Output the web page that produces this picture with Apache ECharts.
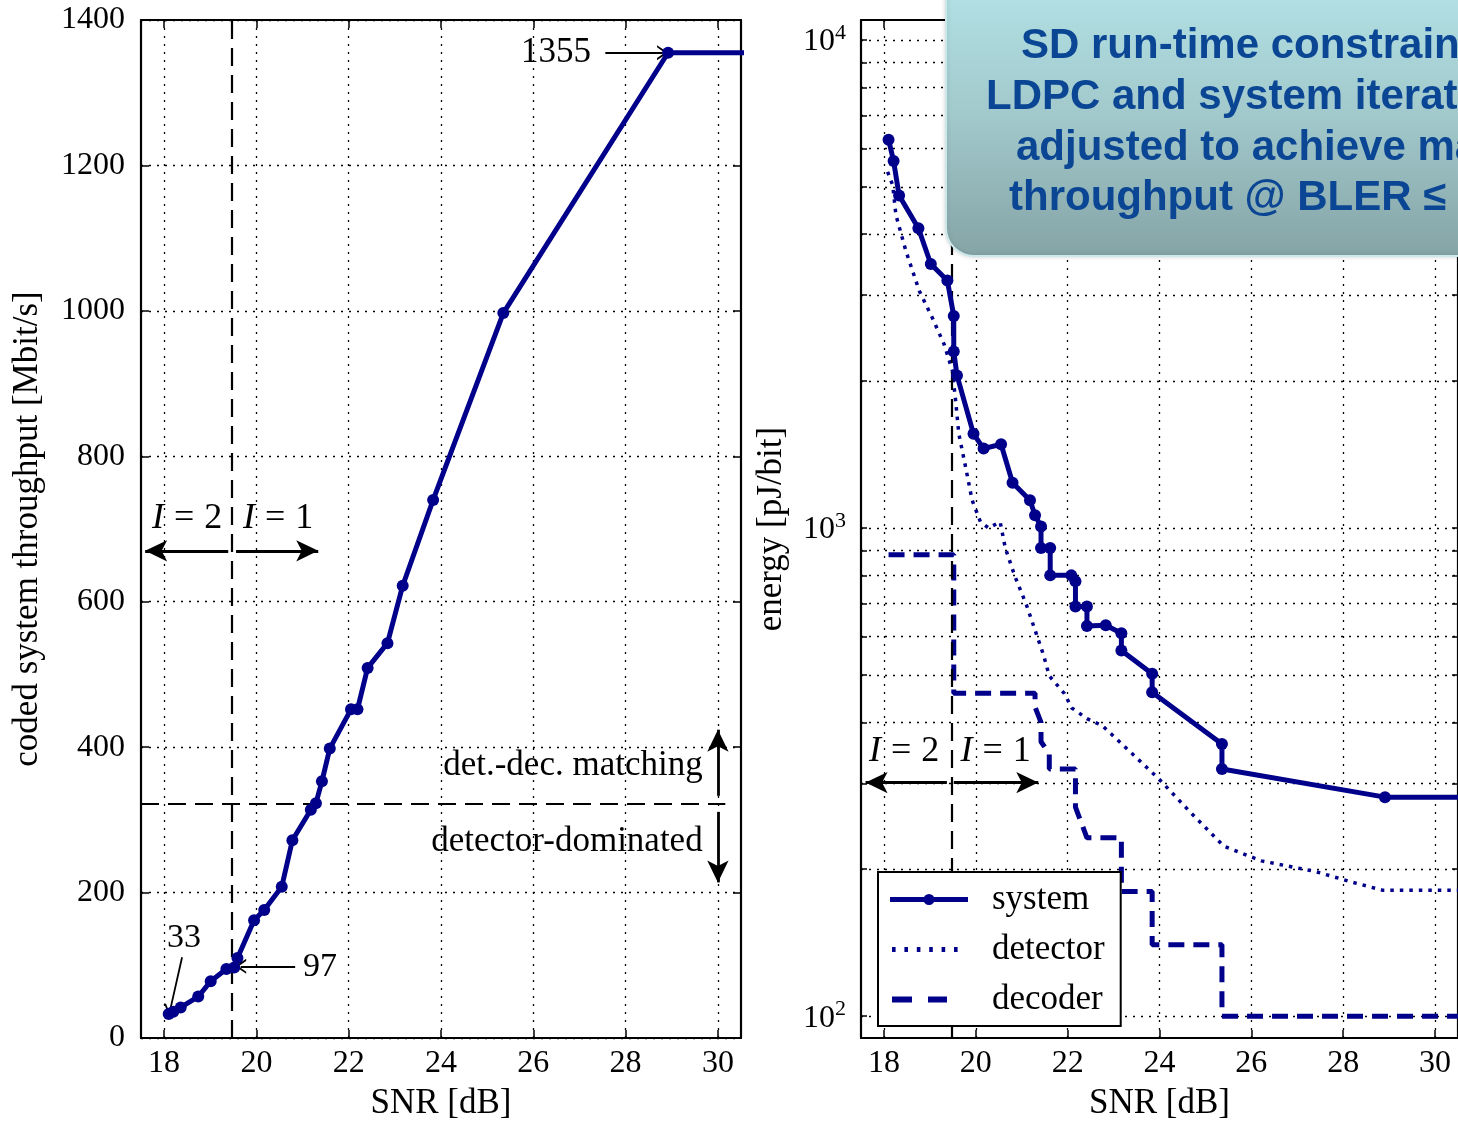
<!DOCTYPE html>
<html><head><meta charset="utf-8">
<script src="https://cdn.jsdelivr.net/npm/echarts@6/dist/echarts.min.js"></script>
<style>html,body{margin:0;padding:0;background:#fff}#c{width:1458px;height:1126px}</style>
</head><body><div id="c"></div>
<script>
// ---- data ----
const snrThroughput = [18.1, 18.2, 18.36, 18.74, 19.01, 19.35, 19.52, 19.59, 19.95, 20.17, 20.55, 20.78, 21.18, 21.29, 21.42, 21.59, 22.05, 22.19, 22.41, 22.84, 23.17, 23.83, 25.35, 28.92, 31];
const throughput = [33, 36, 42, 57, 78, 95, 97, 110, 162, 176, 208, 272, 314, 323, 353, 398, 452, 452, 509, 543, 622, 740, 997, 1355, 1355];

const snrSystem = [18.1, 18.21, 18.33, 18.75, 19.02, 19.38, 19.52, 19.52, 19.59, 19.95, 20.17, 20.55, 20.8, 21.18, 21.29, 21.42, 21.42, 21.62, 21.62, 22.08, 22.17, 22.17, 22.42, 22.42, 22.83, 23.17, 23.17, 23.84, 23.84, 25.36, 25.36, 28.91, 31];
const energySystem = [6250, 5650, 4800, 4115, 3475, 3215, 2720, 2300, 2055, 1560, 1455, 1485, 1238, 1140, 1062, 1008, 910, 910, 800, 800, 778, 691, 691, 630, 632, 609, 561, 503, 461, 361, 321, 281, 281];

const snrDetector = [18.08, 18.19, 18.26, 18.48, 18.77, 19.05, 19.31, 19.49, 19.56, 19.63, 19.78, 19.92, 20.1, 20.28, 20.53, 20.64, 20.85, 21.1, 21.31, 21.47, 21.6, 21.93, 22.09, 22.42, 22.75, 23.25, 23.99, 24.65, 25.4, 26.22, 27.38, 28.21, 28.87, 31];
const energyDetector = [5370, 5040, 4380, 3690, 3060, 2700, 2380, 2100, 1825, 1560, 1330, 1140, 1030, 1000, 1030, 912, 797, 697, 610, 551, 498, 458, 428, 407, 394, 356, 306, 263, 223, 208, 198, 188, 181, 181];

const snrDecoder = [18.1, 19.52, 19.52, 21.29, 21.29, 21.42, 21.42, 21.6, 21.6, 22.17, 22.17, 22.42, 23.17, 23.17, 23.84, 23.84, 25.36, 25.36, 31];
const energyDecoder = [882, 882, 459, 459, 430, 400, 365, 345, 321, 321, 268, 232, 232, 180, 180, 140, 140, 100, 100];

const xTicks = [18, 20, 22, 24, 26, 28, 30];
const energyMajor = [100, 1000, 10000];
const energyGrid = [100,200,300,400,500,600,700,800,900,1000,2000,3000,4000,5000,6000,7000,8000,9000,10000];

const iSplitSnr = 19.47;
const matchingLevel = 322;

const zip = (a, b) => a.map((v, i) => [v, b[i]]);

const SERIF = '"Liberation Serif", "DejaVu Serif", serif';
const NAVY = '#00008b';
const dotted = { type: [2, 6], color: '#000', width: 1.3 };
const openArrow = 'path://M5,0 L10,10 L8.6,10 L5,3 L1.4,10 L0,10 Z';

// legend icons (78 x 30 box; tiny corner specks fix the bounding box)
const corners = 'M0,0h0.1v0.1h-0.1Z M77.9,29.9h0.1v0.1h-0.1Z ';
const iconSystem = 'path://' + corners + 'M0,12.5H34V17.5H0Z M44,12.5H78V17.5H44Z M33.5,15A5.5,5.5,0,1,1,44.5,15A5.5,5.5,0,1,1,33.5,15Z';
let dots = '';
for (let k = 0; k < 6; k++) { const x0 = 2 + k * 12.4; dots += 'M' + x0 + ',12.5h3.6v5h-3.6Z '; }
const iconDetector = 'path://' + corners + dots;
const iconDecoder = 'path://' + corners + 'M2,12H22V18H2Z M38,12H57V18H38Z';

function xAx(grid, pos, main) {
  return {
    type: 'value', gridIndex: grid, position: pos, min: 17.5, max: 30.5,
    axisLine: { show: true, onZero: false, lineStyle: { color: '#000', width: 2.2 } },
    axisTick: { show: true, inside: true, length: 8, customValues: xTicks, lineStyle: { color: '#000', width: 1.5 } },
    axisLabel: { show: main, customValues: xTicks, color: '#000', fontSize: 32, fontFamily: SERIF, margin: 10 },
    splitLine: { show: main, lineStyle: dotted },
    name: main ? 'SNR [dB]' : '', nameLocation: 'middle', nameGap: 48,
    nameTextStyle: { color: '#000', fontSize: 35, fontFamily: SERIF }
  };
}
function yLin(pos, main) {
  return {
    type: 'value', gridIndex: 0, position: pos, min: 0, max: 1400, interval: 200,
    axisLine: { show: true, onZero: false, lineStyle: { color: '#000', width: 2.2 } },
    axisTick: { show: true, inside: true, length: 8, lineStyle: { color: '#000', width: 1.5 } },
    axisLabel: { show: main, color: '#000', fontSize: 32, fontFamily: SERIF, margin: 16, formatter: v => String(v) },
    splitLine: { show: main, lineStyle: dotted },
    name: main ? 'coded system throughput [Mbit/s]' : '', nameLocation: 'middle', nameGap: 96,
    nameTextStyle: { color: '#000', fontSize: 35, fontFamily: SERIF }
  };
}
function yLog(pos, main) {
  return {
    type: 'log', logBase: 10, gridIndex: 1, position: pos, min: 90.2, max: 10990,
    axisLine: { show: true, onZero: false, lineStyle: { color: '#000', width: 2.2 } },
    axisTick: { show: true, inside: true, length: 6, customValues: energyGrid, lineStyle: { color: '#000', width: 1.5 } },
    axisLabel: {
      show: main, customValues: energyMajor, margin: 15,
      formatter: v => '{b|10}{s|' + Math.round(Math.log10(v)) + '}',
      rich: {
        b: { fontSize: 32, fontFamily: SERIF, color: '#000', lineHeight: 36, verticalAlign: 'bottom' },
        s: { fontSize: 22, fontFamily: SERIF, color: '#000', lineHeight: 22, verticalAlign: 'top' }
      }
    },
    splitLine: { show: main, lineStyle: dotted },
    name: main ? 'energy [pJ/bit]' : '', nameLocation: 'middle', nameGap: 72,
    nameTextStyle: { color: '#000', fontSize: 35, fontFamily: SERIF }
  };
}

function arrow(p1, p2, sym) {
  return [{ coord: p1, symbol: 'none' }, { coord: p2, symbol: sym || 'arrow' }];
}
const richText = {
  i: { fontStyle: 'italic', fontSize: 36, fontFamily: SERIF, color: '#000' },
  e: { fontSize: 36, fontFamily: SERIF, color: '#000', padding: [0, 10, 0, 10] },
  n: { fontSize: 36, fontFamily: SERIF, color: '#000' }
};
function txt(coord, text, pos, size) {
  return {
    coord: coord, value: 0,
    label: { show: true, position: pos || 'inside', distance: 0, formatter: text,
      color: '#000', fontSize: size || 35, fontFamily: SERIF, rich: richText }
  };
}
const iLabel = n => '{i|I}{e|=}{n|' + n + '}';
const markText = { symbol: 'circle', symbolSize: 1, itemStyle: { color: 'rgba(0,0,0,0)' }, silent: true };
const BOXFONT = 'bold 42px "Liberation Sans", Arial, sans-serif';

const chart = echarts.init(document.getElementById('c'));
chart.setOption({
  animation: false,
  backgroundColor: '#fff',
  textStyle: { fontFamily: SERIF },
  grid: [
    { left: 141, top: 20, width: 600, height: 1023 },
    { left: 861, top: 20, width: 602, height: 1023 }
  ],
  xAxis: [xAx(0, 'bottom', true), xAx(0, 'top', false), xAx(1, 'bottom', true), xAx(1, 'top', false)],
  yAxis: [yLin('left', true), yLin('right', false), yLog('left', true), yLog('right', false)],
  legend: {
    z: 20,
    data: [ { name: 'system', icon: iconSystem }, { name: 'detector', icon: iconDetector }, { name: 'decoder', icon: iconDecoder } ],
    orient: 'vertical', left: 878, top: 872,
    selectedMode: false, itemWidth: 78, itemHeight: 30, itemGap: 15,
    padding: [10, 16, 9, 12],
    itemStyle: { color: NAVY, borderWidth: 0, borderColor: 'rgba(0,0,0,0)' },
    backgroundColor: '#fff', borderColor: '#000', borderWidth: 2,
    textStyle: { color: '#000', fontSize: 35, lineHeight: 30, fontFamily: SERIF, padding: [0, 0, 0, 19] }
  },
  series: [
    { name: 'system', type: 'line', xAxisIndex: 0, yAxisIndex: 0, data: zip(snrThroughput, throughput),
      symbol: 'circle', symbolSize: 12, lineStyle: { color: NAVY, width: 5 }, itemStyle: { color: NAVY }, z: 5 },
    { name: 'system', type: 'line', xAxisIndex: 2, yAxisIndex: 2, data: zip(snrSystem, energySystem),
      symbol: 'circle', symbolSize: 12, lineStyle: { color: NAVY, width: 5 }, itemStyle: { color: NAVY }, z: 5 },
    { name: 'detector', type: 'line', xAxisIndex: 2, yAxisIndex: 2, data: zip(snrDetector, energyDetector),
      symbol: 'none', lineStyle: { color: NAVY, width: 3.5, type: [3.5, 6] }, itemStyle: { color: NAVY }, z: 4 },
    { name: 'decoder', type: 'line', xAxisIndex: 2, yAxisIndex: 2, data: zip(snrDecoder, energyDecoder),
      symbol: 'none', lineStyle: { color: NAVY, width: 5, type: [16, 9] }, itemStyle: { color: NAVY }, z: 4 },
    // left annotations: dashed guides
    { type: 'line', xAxisIndex: 0, yAxisIndex: 0, data: [], z: 3,
      markLine: { silent: true, symbol: 'none', label: { show: false },
        lineStyle: { color: '#000', width: 2.2, type: [18, 9] },
        data: [ { xAxis: iSplitSnr }, [ { coord: [17.5, matchingLevel] }, { coord: [30.16, matchingLevel] } ] ] } },
    // left annotations: filled arrows
    { type: 'line', xAxisIndex: 0, yAxisIndex: 0, data: [], z: 3,
      markLine: { silent: true, symbolSize: [16, 22], label: { show: false },
        lineStyle: { color: '#000', width: 2.8, type: 'solid' },
        data: [ arrow([19.39, 670], [17.59, 670]), arrow([19.56, 670], [21.34, 670]),
                arrow([30.0, 333], [30.0, 424]), arrow([30.0, 311], [30.0, 214]) ] } },
    // left annotations: open arrows
    { type: 'line', xAxisIndex: 0, yAxisIndex: 0, data: [], z: 3,
      markLine: { silent: true, symbolSize: [15, 11], label: { show: false },
        lineStyle: { color: '#000', width: 1.8, type: 'solid' },
        data: [ arrow([18.39, 111], [18.13, 38], openArrow), arrow([20.84, 98.6], [19.66, 98.6], openArrow),
                arrow([27.56, 1355], [28.8, 1355], openArrow) ] } },
    // left annotations: texts
    { type: 'line', xAxisIndex: 0, yAxisIndex: 0, data: [], z: 3,
      markPoint: Object.assign({}, markText, { data: [
        txt([18.5, 715], iLabel(2)), txt([20.47, 715], iLabel(1)),
        txt([29.68, 375], 'det.-dec. matching', 'left'), txt([29.68, 270], 'detector-dominated', 'left'),
        txt([18.43, 138], '33', 'inside', 34), txt([21.38, 97], '97', 'inside', 34), txt([26.49, 1355], '1355', 'inside', 35) ] }) },
    // right annotations
    { type: 'line', xAxisIndex: 2, yAxisIndex: 2, data: [], z: 3,
      markLine: { silent: true, symbol: 'none', label: { show: false },
        lineStyle: { color: '#000', width: 2.2, type: [18, 9] }, data: [ { xAxis: iSplitSnr } ] } },
    { type: 'line', xAxisIndex: 2, yAxisIndex: 2, data: [], z: 3,
      markLine: { silent: true, symbolSize: [16, 22], label: { show: false },
        lineStyle: { color: '#000', width: 2.8, type: 'solid' },
        data: [ arrow([19.37, 301], [17.6, 301]), arrow([19.52, 301], [21.36, 301]) ] } },
    { type: 'line', xAxisIndex: 2, yAxisIndex: 2, data: [], z: 3,
      markPoint: Object.assign({}, markText, { data: [ txt([18.44, 348], iLabel(2)), txt([20.43, 348], iLabel(1)) ] }) }
  ],
  graphic: [
    { type: 'rect', left: 945, top: -30, z: 100, silent: true,
      shape: { width: 560, height: 285, r: 28 },
      style: { fill: new echarts.graphic.LinearGradient(0, 0, 0, 1, [
        { offset: 0, color: '#b4e4e8' }, { offset: 0.5, color: '#a2c9cc' }, { offset: 1, color: '#85a4a6' } ]),
        stroke: '#cde8eb', lineWidth: 2, shadowBlur: 4, shadowColor: 'rgba(0,0,0,0.15)' } },
    { type: 'text', left: 1021, top: 25, z: 101, silent: true,
      style: { text: 'SD run-time constraint,', font: BOXFONT, fill: '#0b4694' } },
    { type: 'text', left: 986, top: 76, z: 101, silent: true,
      style: { text: 'LDPC and system iterations', font: BOXFONT, fill: '#0b4694' } },
    { type: 'text', left: 1016, top: 127, z: 101, silent: true,
      style: { text: 'adjusted to achieve max.', font: BOXFONT, fill: '#0b4694' } },
    { type: 'text', left: 1009, top: 177, z: 101, silent: true,
      style: { text: 'throughput @ BLER ≤ 1%', font: BOXFONT, fill: '#0b4694' } }
  ]
});
</script></body></html>
